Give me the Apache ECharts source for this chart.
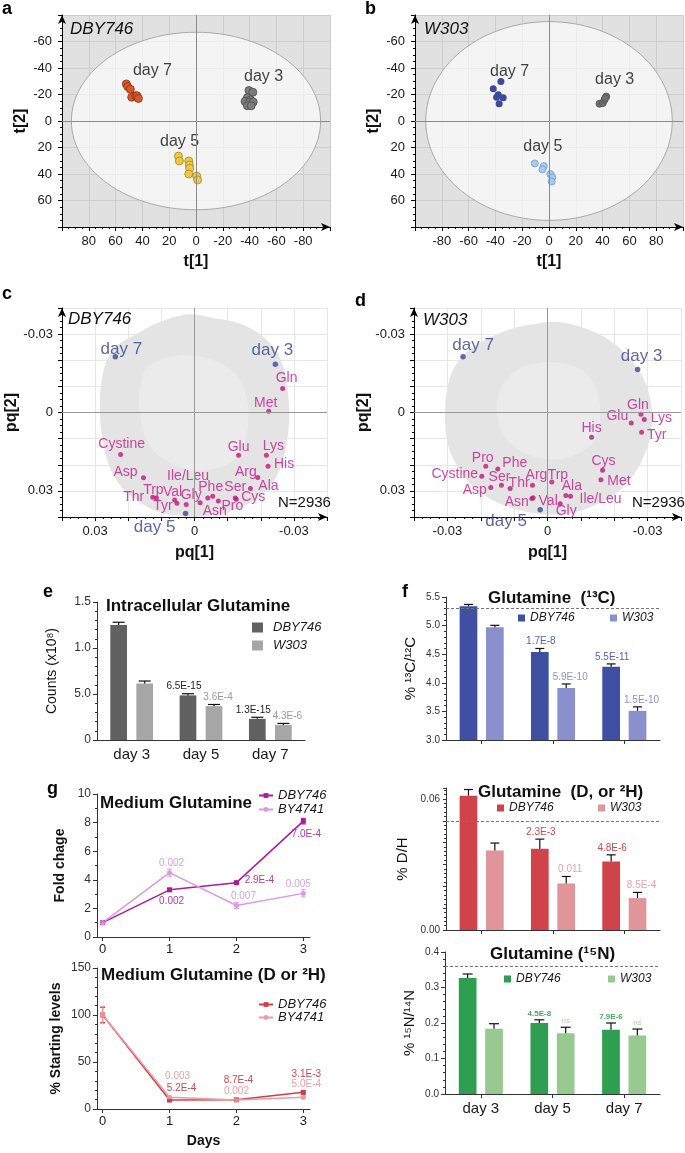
<!DOCTYPE html>
<html><head><meta charset="utf-8">
<script src="https://cdn.jsdelivr.net/npm/echarts@6/dist/echarts.min.js"></script>
<style>html,body{margin:0;padding:0;background:#fff;}#c{width:685px;height:1153px;}</style>
</head><body><div id="c"></div>
<script>
// ================= DATA =================
// Panel a – DBY746 scores [t1, t2]
const aDay3 = [[-39.5,-23],[-42.4,-21.7],[-38.3,-17.5],[-40.7,-16],[-36.6,-14.8],[-40,-14.3],[-42.7,-14.3],[-38.3,-11.5],[-41.2,-11.5]];
const aDay5 = [[13.1,26.5],[12.4,30.2],[5.4,30.2],[5,33.2],[4.7,35.7],[5.4,40],[-0.5,41.5],[-1.2,44.5]];
const aDay7 = [[52,-28],[51,-26],[49,-24],[48,-18],[45,-19],[44,-19],[43,-17]];
const aEllipse = [93, 67];
// Panel b – W303 scores
const bDay3 = [[37.7,-13],[40.2,-13.5],[41.4,-16],[42.7,-18.5],[42,-17.3]];
const bDay5 = [[-10.6,32],[-3.9,34],[-4.9,36.5],[1,40],[2.5,42.5],[2,45.7]];
const bDay7 = [[-35.9,-29.8],[-41.6,-24.3],[-37.9,-19.8],[-39.1,-18],[-34.2,-17.5],[-37.2,-13]];
const bEllipse = [92, 75];
const dayNames = ['day 7','day 3','day 5'];

// Panel c – DBY746 loadings
const cNames = ['Gln','Met','Cystine','Glu','Lys','His','Asp','Arg','Ala','Ile/Leu','Asn','Phe','Pro','Ser','Cys','Thr','Trp','Val','Tyr','Gly'];
const cPq1 = [-0.0266,-0.0224,0.0223,-0.0133,-0.0217,-0.0222,0.0154,-0.0191,-0.0169,-0.0017,-0.0040,-0.0055,-0.0072,-0.0123,-0.0126,0.0126,0.0115,0.0060,0.0053,0.0025];
const cPq2 = [-0.0092,-0.0005,0.0161,0.0164,0.0164,0.0206,0.0250,0.0249,0.0291,0.0345,0.0327,0.0321,0.0339,0.0327,0.0332,0.0324,0.0327,0.0335,0.0347,0.0352];
const cDayPq1 = [0.0239,-0.0244,0.0027];
const cDayPq2 = [-0.0213,-0.0185,0.0387];
const cCloud = [[0.0015,-0.0376],[-0.0060,-0.0361],[-0.0135,-0.0342],[-0.0202,-0.0296],[-0.0244,-0.0239],[-0.0271,-0.0162],[-0.0283,-0.0066],[-0.0286,0.0029],[-0.0277,0.0125],[-0.0259,0.0214],[-0.0226,0.0286],[-0.0181,0.0336],[-0.0120,0.0374],[-0.0045,0.0397],[0.0030,0.0397],[0.0105,0.0382],[0.0166,0.0344],[0.0220,0.0286],[0.0256,0.0209],[0.0277,0.0106],[0.0286,-0.0009],[0.0280,-0.0124],[0.0262,-0.0208],[0.0232,-0.0258],[0.0181,-0.0296],[0.0105,-0.0346]];
const cCloudInner = [[0.0136,-0.0181],[0.0030,-0.0220],[-0.0090,-0.0181],[-0.0151,-0.0085],[-0.0160,0.0068],[-0.0120,0.0183],[-0.0030,0.0221],[0.0060,0.0202],[0.0136,0.0125],[0.0166,-0.0009],[0.0160,-0.0124]];

// Panel d – W303 loadings
const dNames = ['Gln','Lys','Glu','Tyr','His','Cys','Met','Pro','Phe','Cystine','Ser','Asp','Thr','Arg','Trp','Ala','Ile/Leu','Asn','Val','Gly'];
const dPq1 = [0.0280,0.0290,0.0251,0.0282,0.0132,0.0165,0.0160,-0.0185,-0.0149,-0.0197,-0.0138,-0.0170,-0.0112,-0.0045,0.0013,0.0055,0.0069,-0.0047,-0.0043,0.0038];
const dPq2 = [0.0007,0.0027,0.0040,0.0076,0.0095,0.0221,0.0257,0.0206,0.0216,0.0244,0.0278,0.0287,0.0291,0.0278,0.0266,0.0318,0.0321,0.0329,0.0326,0.0349];
const dDayPq1 = [-0.0253,0.0270,-0.0022];
const dDayPq2 = [-0.0213,-0.0165,0.0372];
const dCloud = [[0.0035,-0.0346],[0.0110,-0.0323],[0.0185,-0.0277],[0.0245,-0.0208],[0.0290,-0.0124],[0.0311,-0.0028],[0.0311,0.0068],[0.0290,0.0163],[0.0251,0.0251],[0.0191,0.0321],[0.0119,0.0367],[0.0035,0.0390],[-0.0055,0.0382],[-0.0130,0.0355],[-0.0190,0.0317],[-0.0241,0.0259],[-0.0280,0.0183],[-0.0301,0.0106],[-0.0307,0.0010],[-0.0301,-0.0086],[-0.0280,-0.0170],[-0.0235,-0.0239],[-0.0175,-0.0285],[-0.0100,-0.0323],[-0.0025,-0.0342]];
const dCloudInner = [[-0.0100,-0.0155],[0.0005,-0.0193],[0.0110,-0.0155],[0.0155,-0.0047],[0.0140,0.0106],[0.0050,0.0175],[-0.0055,0.0163],[-0.0130,0.0087],[-0.0151,-0.0047]];
const loadTickVals = [-0.03, 0, 0.03];
const cXTickLabels = ['-0.03','0','0.03'];
const dXTickLabels = ['-0.03','0','-0.03'];
const loadYTickLabels = ['-0.03','0','0.03'];

// Panel e – intracellular glutamine
const days = ['day 3','day 5','day 7'];
const eYTickLabels = ['0','5.0','1.0','1.5'];
const eDBY = [1.25,0.485,0.23];   const eDBYErr = [0.03,0.018,0.017]; const eDBYP = ['','6.5E-15','1.3E-15'];
const eW303 = [0.613,0.368,0.164]; const eW303Err = [0.028,0.018,0.016]; const eW303P = ['','3.6E-4','4.3E-6'];

// Panel f – isotopes
const fCTickLabels = ['3.0','3.5','4.0','4.5','5.0','5.5'];
const fC_DBY = [5.34,4.54,4.28]; const fC_DBYErr = [0.03,0.06,0.05]; const fC_DBYP = ['','1.7E-8','5.5E-11'];
const fC_W = [4.97,3.91,3.51];   const fC_WErr = [0.035,0.07,0.07];   const fC_WP = ['','5.9E-10','1.5E-10'];
const fC_ref = 5.31;
const fDTickVals = [0, 0.06]; const fDTickLabels = ['0.00','0.06'];
const fD_DBY = [0.0615,0.0372,0.0314]; const fD_DBYErr = [0.0028,0.0044,0.003]; const fD_DBYP = ['','2.3E-3','4.8E-6'];
const fD_W = [0.0364,0.0213,0.0146];   const fD_WErr = [0.0034,0.0032,0.0026]; const fD_WP = ['','0.011','8.5E-4'];
const fD_ref = 0.050;
const fNTickLabels = ['0.0','0.1','0.2','0.3','0.4'];
const fN_DBY = [0.327,0.2,0.181]; const fN_DBYErr = [0.011,0.009,0.019]; const fN_DBYP = ['','4.5E-8','7.9E-6'];
const fN_W = [0.184,0.171,0.165]; const fN_WErr = [0.014,0.017,0.018]; const fN_WP = ['','ns','ns'];
const fN_ref = 0.362;

// Panel g – medium glutamine
const gDays = [0,1,2,3];
const gFoldTickLabels = ['0','2','4','6','8','10'];
const gFoldDBY = [1.0,3.3,3.8,8.1];  const gFoldDBYErr = [0.05,0.1,0.06,0.2];  const gFoldDBYP = ['','0.002','2.9E-4','7.0E-4'];
const gFoldBY = [1.0,4.5,2.2,3.05];  const gFoldBYErr = [0.05,0.25,0.2,0.25];  const gFoldBYP = ['','0.002','0.007','0.005'];
const gLevTickLabels = ['0','50','100','150'];
const gLevDBY = [100,9.5,9.8,17.7];  const gLevDBYErr = [8,1,1,1.5];  const gLevDBYP = ['','5.2E-4','8.7E-4','3.1E-3'];
const gLevBY = [100,12.5,9.6,12.4];  const gLevBYErr = [9,1,1,1.5];  const gLevBYP = ['','0.003','0.002','5.0E-4'];

// ================= LAYOUT (pixel offsets for text) =================
const FONT = 'Liberation Sans, Arial, Helvetica, sans-serif';
const L = {
  aLab: [[20,-22],[14,-23],[-9,-26]],
  bLab: [[11,-22],[11,-21],[-3,-25]],
  cLab: {'Gln':[4,-10],'Met':[-3,-8],'Cystine':[1,-10],'Glu':[0,-8],'Lys':[7,-9],'His':[16,-2],'Asp':[-18,-6],'Arg':[-12,-5],'Ala':[18,-2],'Ile/Leu':[-12,-26],'Asn':[7,13],'Phe':[-2,-9],'Pro':[14,5],'Ser':[0,-11],'Cys':[17,-2],'Thr':[-19,0],'Trp':[-3,-8],'Val':[-2,-8],'Tyr':[-14,3],'Gly':[5,-9]},
  cDay: [[6,-8],[-3,-14],[-31,14]],
  dLab: {'Gln':[-3,-9],'Lys':[17,-1],'Glu':[-14,-7],'Tyr':[15,3],'His':[0,-9],'Cys':[1,-9],'Met':[18,1],'Pro':[-3,-8],'Phe':[17,-6],'Cystine':[-27,-2],'Ser':[-2,-8],'Asp':[-16,3],'Thr':[9,-5],'Arg':[4,-10],'Trp':[6,-7],'Ala':[6,-9],'Ile/Leu':[30,3],'Asn':[-15,4],'Val':[15,3],'Gly':[6,7]},
  dDay: [[10,-12],[4,-13],[-34,12]],
  g1DBY: [[0,0],[2,11],[23,-2],[3,13]],
  g1BY:  [[0,0],[2,-9],[7,-9],[-5,-9]],
  g2DBY: [[0,0],[12,-12],[2,-20],[3,-18]],
  g2BY:  [[0,0],[8,-21],[0,-9],[3,-13]]
};

// ================= HELPERS =================
function merge(a,b){const o=Object.assign({},a);for(const k in b){const v=b[k];if(v&&typeof v==='object'&&!Array.isArray(v)&&o[k]&&typeof o[k]==='object'&&!Array.isArray(o[k]))o[k]=merge(o[k],v);else o[k]=v;}return o;}
function axis(extra){return merge({type:'value',axisLine:{show:true,onZero:false,lineStyle:{color:'#000',width:1}},axisTick:{show:true,length:4,lineStyle:{color:'#000'}},minorTick:{show:false,length:2,lineStyle:{color:'#000'}},axisLabel:{color:'#1a1a1a',fontFamily:FONT,fontSize:13},splitLine:{show:false},nameLocation:'middle',nameTextStyle:{fontFamily:FONT,color:'#111',fontWeight:'bold',fontSize:16}},extra);}
function near(v,t){return Math.abs(v-t)<1e-9;}
function pickLabel(vals,labs){return function(v){for(let i=0;i<vals.length;i++)if(near(v,vals[i]))return labs[i];return '';};}
function T(text,left,top,st){return {text,left,top,padding:0,textStyle:merge({fontFamily:FONT,color:'#111',fontSize:16,fontWeight:'normal'},st||{})};}
function ellipse(gi,ax){return {type:'custom',xAxisIndex:gi,yAxisIndex:gi,silent:true,z:1,data:[[0,0]],
  renderItem:function(p,api){const pts=[];for(let k=0;k<=120;k++){const t=k/120*2*Math.PI;pts.push(api.coord([ax[0]*Math.cos(t),ax[1]*Math.sin(t)]));}
    return {type:'polygon',shape:{points:pts},style:{fill:'rgba(255,255,255,0.62)',stroke:'#a9a9a9',lineWidth:1}};},
  markLine:{silent:true,symbol:'none',label:{show:false},lineStyle:{color:'#8a8a8a',type:'solid',width:1},data:[{xAxis:0},{yAxis:0}]}};}
function poly(gi,pts,fill,z){return {type:'custom',xAxisIndex:gi,yAxisIndex:gi,silent:true,z:z,data:[[0,0]],
  renderItem:function(p,api){return {type:'polygon',shape:{points:pts.map(q=>api.coord(q)),smooth:0.35},style:{fill:fill}};}};}
function scat(gi,pts,col,border,size){return {type:'scatter',xAxisIndex:gi,yAxisIndex:gi,silent:true,symbolSize:size,z:3,data:pts,itemStyle:{color:col,borderColor:border,borderWidth:border?0.8:0,opacity:1}};}
function centroid(pts){let sx=0,sy=0;pts.forEach(p=>{sx+=p[0];sy+=p[1];});return [sx/pts.length,sy/pts.length];}
function clusterLabels(gi,clusters,names,offs){return {type:'scatter',xAxisIndex:gi,yAxisIndex:gi,silent:true,symbolSize:1,z:4,itemStyle:{color:'rgba(0,0,0,0)'},
  data:clusters.map((c,i)=>({value:centroid(c),name:names[i],label:{show:true,position:'inside',formatter:'{b}',offset:offs[i],fontSize:16,fontFamily:FONT,color:'#111'}}))};}
function pointLabels(gi,xs,ys,names,offs,col,dotCol,fs,dot){return {type:'scatter',xAxisIndex:gi,yAxisIndex:gi,silent:true,symbolSize:dot,z:4,itemStyle:{color:dotCol},
  data:xs.map((x,i)=>({value:[x,ys[i]],name:names[i],label:{show:true,position:'inside',formatter:'{b}',offset:Array.isArray(offs)?offs[i]:offs[names[i]],fontSize:fs,fontFamily:FONT,color:col}}))};}
function bar(name,gi,vals,col,bw,gap){return {type:'bar',name:name,xAxisIndex:gi,yAxisIndex:gi,data:vals,barWidth:bw,barGap:gap,itemStyle:{color:col},silent:true,z:2};}
function errBars(gi,vals,errs,labs,dx,cap,lab){return {type:'custom',xAxisIndex:gi,yAxisIndex:gi,silent:true,z:5,data:vals.map((v,i)=>[i,v,errs[i]]),
  renderItem:function(p,api){const i=api.value(0),v=api.value(1),e=api.value(2);const p0=api.coord([i,v]),p1=api.coord([i,v+e]);const x=p0[0]+dx;
    const st={stroke:'#111',lineWidth:1.2};
    const ch=[{type:'line',shape:{x1:x,y1:p0[1],x2:x,y2:p1[1]},style:st},{type:'line',shape:{x1:x-cap/2,y1:p1[1],x2:x+cap/2,y2:p1[1]},style:st}];
    const t=labs[p.dataIndex];
    if(t)ch.push({type:'text',x:x+lab.dx,y:p1[1]-2,style:{text:t,fill:lab.color,fontSize:lab.size,fontFamily:FONT,fontWeight:lab.weight||'normal',align:'center',verticalAlign:'bottom'}});
    return {type:'group',children:ch};}};}
function errSym(gi,xs,vals,errs,col){return {type:'custom',xAxisIndex:gi,yAxisIndex:gi,silent:true,z:4,data:xs.map((x,i)=>[x,vals[i],errs[i]]),
  renderItem:function(p,api){const x=api.value(0),v=api.value(1),e=api.value(2);const a=api.coord([x,v-e]),b=api.coord([x,v+e]);const st={stroke:col,lineWidth:1};
    return {type:'group',children:[{type:'line',shape:{x1:a[0],y1:a[1],x2:b[0],y2:b[1]},style:st},{type:'line',shape:{x1:a[0]-2.5,y1:a[1],x2:a[0]+2.5,y2:a[1]},style:st},{type:'line',shape:{x1:b[0]-2.5,y1:b[1],x2:b[0]+2.5,y2:b[1]},style:st}]};}};}
function line(name,gi,xs,vals,labs,offs,col,labCol,sym){return {type:'line',name:name,xAxisIndex:gi,yAxisIndex:gi,silent:true,z:3,symbol:sym,symbolSize:5,showSymbol:true,
  itemStyle:{color:col},lineStyle:{color:col,width:1.5},
  data:xs.map((x,i)=>({value:[x,vals[i]],label:labs[i]?{show:true,position:'inside',formatter:labs[i],offset:offs[i],color:labCol,fontSize:10,fontFamily:FONT}:{show:false}}))};}
function leg(name,left,top,icon,extra){return merge({data:[name],left:left,top:top,padding:0,itemWidth:7,itemHeight:7,icon:icon,selectedMode:false,
  formatter:function(n){return n.split('|')[0];},textStyle:{fontFamily:FONT,fontStyle:'italic',fontSize:12,color:'#1a1a1a'}},extra||{});}
function refLine(v){return {silent:true,symbol:'none',label:{show:false},lineStyle:{color:'#777',type:[3,2],width:1},data:[{yAxis:v}]};}

// ================= GRIDS & AXES =================
const G = (l,t,w,h,extra)=>merge({left:l,top:t,width:w,height:h,containLabel:false,outerBoundsMode:'none'},extra||{});
const grids = [
  G(62,15,268,212,{show:true,backgroundColor:'#e1e1e1',borderWidth:0}),
  G(415,15,268,212,{show:true,backgroundColor:'#e1e1e1',borderWidth:0}),
  G(62,308,265,209),
  G(414,308,267,209),
  G(97,602,208,138),
  G(446,597,214,143),
  G(446,788,214,142),
  G(445,952,215,142),
  G(97,794,213,143),
  G(97,968,213,141)
];
const arrow = {symbol:['none','arrow'],symbolSize:[6,9]};
const scoreX = (gi,inv)=>axis({gridIndex:gi,min:-100,max:100,interval:20,inverse:inv,axisLine:arrow,minorTick:{show:true,splitNumber:4},
  splitLine:{show:true,lineStyle:{color:'#cdcdcd'}},axisLabel:{margin:8,formatter:v=>Math.abs(v)<=80?String(v):''},name:'t[1]',nameGap:27});
const scoreY = (gi)=>axis({gridIndex:gi,min:-80,max:80,interval:20,inverse:true,axisLine:arrow,minorTick:{show:true,splitNumber:4},
  splitLine:{show:true,lineStyle:{color:'#cdcdcd'}},axisLabel:{margin:10,formatter:v=>Math.abs(v)<=60?String(v):''},name:'t[2]',nameGap:33});
const loadX = (gi,inv,labs)=>axis({gridIndex:gi,min:-0.04,max:0.04,interval:0.01,inverse:inv,axisLine:arrow,minorTick:{show:true,splitNumber:4},
  splitLine:{show:true,lineStyle:{color:'#e6e6e6'}},axisLabel:{margin:8,formatter:pickLabel(loadTickVals,labs)},name:'pq[1]',nameGap:28});
const loadY = (gi)=>axis({gridIndex:gi,min:-0.04,max:0.04,interval:0.01,inverse:true,axisLine:arrow,minorTick:{show:true,splitNumber:4},
  splitLine:{show:true,lineStyle:{color:'#e6e6e6'}},axisLabel:{margin:9,formatter:pickLabel(loadTickVals,loadYTickLabels)},name:'pq[2]',nameGap:34});
const catX = (gi,showLab,tick)=>axis({gridIndex:gi,type:'category',data:days,axisLine:{lineStyle:{color:'#333'}},
  axisTick:{show:tick,alignWithLabel:true,length:4,lineStyle:{color:'#333'}},axisLabel:{show:showLab,fontSize:15,margin:7,color:'#1a1a1a'}});
const barY = (gi,ext)=>axis(merge({gridIndex:gi,axisLine:{lineStyle:{color:'#333'}},axisTick:{lineStyle:{color:'#333'}},minorTick:{show:true,lineStyle:{color:'#333'}},
  axisLabel:{fontSize:10,color:'#333',margin:6},nameTextStyle:{fontWeight:'normal',fontSize:14}},ext));
const dayX = (gi,ext)=>axis(merge({gridIndex:gi,min:-0.085,max:3.1,axisLine:{lineStyle:{color:'#333'}},
  axisTick:{customValues:gDays,lineStyle:{color:'#333'}},axisLabel:{customValues:gDays,fontSize:13,margin:6,color:'#1a1a1a'}},ext||{}));

const xAxes = [
  scoreX(0,true), scoreX(1,false), loadX(2,true,cXTickLabels), loadX(3,false,dXTickLabels),
  catX(4,true,false),
  catX(5,false,true), catX(6,false,true), catX(7,true,true),
  dayX(8), dayX(9,{name:'Days',nameGap:25,nameTextStyle:{fontSize:14}})
];
const yAxes = [
  scoreY(0), scoreY(1), loadY(2), loadY(3),
  barY(4,{min:0,max:1.5,interval:0.5,minorTick:{splitNumber:5},axisLabel:{fontSize:12,formatter:(v,i)=>eYTickLabels[i]},name:'Counts (x10⁸)',nameGap:38,nameTextStyle:{fontSize:14}}),
  barY(5,{min:3,max:5.5,interval:0.5,minorTick:{splitNumber:5},axisLabel:{formatter:(v,i)=>fCTickLabels[i]},name:'% ¹³C/¹²C',nameGap:28,nameTextStyle:{fontSize:15}}),
  barY(6,{min:0,max:0.065,interval:0.01,axisTick:{length:3},axisLabel:{formatter:pickLabel(fDTickVals,fDTickLabels)},name:'% D/H',nameGap:36,nameTextStyle:{fontSize:15}}),
  barY(7,{min:0,max:0.4,interval:0.1,minorTick:{splitNumber:5},axisLabel:{formatter:(v,i)=>fNTickLabels[i]},name:'% ¹⁵N/¹⁴N',nameGap:28,nameTextStyle:{fontSize:15}}),
  barY(8,{min:0,max:10,interval:2,minorTick:{splitNumber:2},axisLabel:{fontSize:12,formatter:(v,i)=>gFoldTickLabels[i]},name:'Fold chage',nameGap:30,nameTextStyle:{fontWeight:'bold',fontSize:14}}),
  barY(9,{min:0,max:150,interval:50,minorTick:{splitNumber:5},axisLabel:{fontSize:12,formatter:(v,i)=>gLevTickLabels[i]},name:'% Starting levels',nameGap:34,nameTextStyle:{fontWeight:'bold',fontSize:14}})
];

// ================= SERIES =================
const series = [];
// a
series.push(ellipse(0,aEllipse));
series.push(scat(0,aDay3,'#7c7c7c','#4a4a4a',8));
series.push(scat(0,aDay5,'#f0c848','#a88420',8));
series.push(scat(0,aDay7,'#d5592b','#8a3414',8));
series.push(clusterLabels(0,[aDay7,aDay3,aDay5],dayNames,L.aLab));
// b
series.push(ellipse(1,bEllipse));
series.push(scat(1,bDay3,'#6f6f6f','#555',7));
series.push(scat(1,bDay5,'#a8cbea','#6e9bc6',7));
series.push(scat(1,bDay7,'#3c4a9b',null,7));
series.push(clusterLabels(1,[bDay7,bDay3,bDay5],dayNames,L.bLab));
// c
series.push(poly(2,cCloud,'#e4e4e4',1));
series.push(poly(2,cCloudInner,'rgba(255,255,255,0.28)',1));
const zeroLoad = {silent:true,symbol:'none',label:{show:false},lineStyle:{color:'#999',type:'solid',width:1},data:[{xAxis:0},{yAxis:0}]};
series.push(merge(pointLabels(2,cPq1,cPq2,cNames,L.cLab,'#c2198a','#c0177e',14,5),{markLine:zeroLoad}));
series.push(pointLabels(2,cDayPq1,cDayPq2,dayNames,L.cDay,'#34428f','#3b4897',17,5.5));
// d
series.push(poly(3,dCloud,'#e4e4e4',1));
series.push(poly(3,dCloudInner,'rgba(255,255,255,0.28)',1));
series.push(merge(pointLabels(3,dPq1,dPq2,dNames,L.dLab,'#c2198a','#c0177e',14,5),{markLine:zeroLoad}));
series.push(pointLabels(3,dDayPq1,dDayPq2,dayNames,L.dDay,'#34428f','#3b4897',17,5.5));
// e
const eBW=16.7, eGap=0.56, eOff=eBW*(1+eGap)/2;
series.push(bar('DBY746|e',4,eDBY,'#616161',eBW,'56%'));
series.push(bar('W303|e',4,eW303,'#a6a6a6',eBW,'56%'));
series.push(errBars(4,eDBY,eDBYErr,eDBYP,-eOff,12,{dx:-4,color:'#222',size:10}));
series.push(errBars(4,eW303,eW303Err,eW303P,eOff,12,{dx:4,color:'#9a9a9a',size:10}));
// f
const fBW=17.7, fOff=fBW*1.49/2;
series.push(merge(bar('DBY746|f1',5,fC_DBY,'#3f4fa2',fBW,'49%'),{markLine:refLine(fC_ref)}));
series.push(bar('W303|f1',5,fC_W,'#8a8fcd',fBW,'49%'));
series.push(errBars(5,fC_DBY,fC_DBYErr,fC_DBYP,-fOff,9,{dx:1,color:'#5263b4',size:10}));
series.push(errBars(5,fC_W,fC_WErr,fC_WP,fOff,9,{dx:4,color:'#8c92d0',size:10}));
series.push(merge(bar('DBY746|f2',6,fD_DBY,'#d0434b',fBW,'49%'),{markLine:refLine(fD_ref)}));
series.push(bar('W303|f2',6,fD_W,'#e0959b',fBW,'49%'));
series.push(errBars(6,fD_DBY,fD_DBYErr,fD_DBYP,-fOff,9,{dx:1,color:'#d5464e',size:10}));
series.push(errBars(6,fD_W,fD_WErr,fD_WP,fOff,9,{dx:4,color:'#e8a3a8',size:10}));
series.push(merge(bar('DBY746|f3',7,fN_DBY,'#2f9e50',fBW,'49%'),{markLine:refLine(fN_ref)}));
series.push(bar('W303|f3',7,fN_W,'#98c990',fBW,'49%'));
series.push(errBars(7,fN_DBY,fN_DBYErr,fN_DBYP,-fOff,10,{dx:0,color:'#45ad5e',size:8,weight:'bold'}));
series.push(errBars(7,fN_W,fN_WErr,fN_WP,fOff,10,{dx:0,color:'#a6d49e',size:8}));
// g
series.push(line('DBY746|g1',8,gDays,gFoldDBY,gFoldDBYP,L.g1DBY,'#b0199f','#b3389f','rect'));
series.push(line('BY4741|g1',8,gDays,gFoldBY,gFoldBYP,L.g1BY,'#dd98e5','#d8a2df','circle'));
series.push(errSym(8,gDays,gFoldDBY,gFoldDBYErr,'#b0199f'));
series.push(errSym(8,gDays,gFoldBY,gFoldBYErr,'#dd98e5'));
series.push(line('DBY746|g2',9,gDays,gLevDBY,gLevDBYP,L.g2DBY,'#cc3e48','#cc4850','rect'));
series.push(line('BY4741|g2',9,gDays,gLevBY,gLevBYP,L.g2BY,'#eb9ca3','#e9a0a6','circle'));
series.push(errSym(9,gDays,gLevDBY,gLevDBYErr,'#cc3e48'));
series.push(errSym(9,gDays,gLevBY,gLevBYErr,'#eb9ca3'));

// ================= TEXT =================
const PL = {fontSize:18,fontWeight:'bold',color:'#000'};
const titles = [
  T('a',2,0,PL), T('b',365,0,PL), T('c',2,285,PL), T('d',355,292,PL), T('e',43,583,PL), T('f',402,583,PL), T('g',47,780,PL),
  T('DBY746',70,21,{fontStyle:'italic',fontSize:17}), T('W303',424,21,{fontStyle:'italic',fontSize:17}),
  T('DBY746',68,311,{fontStyle:'italic',fontSize:17}), T('W303',423,312,{fontStyle:'italic',fontSize:17}),
  T('N=2936',278,495,{fontSize:15}), T('N=2936',632,495,{fontSize:15}),
  T('Intracellular Glutamine',106,598,{fontSize:17,fontWeight:'bold'}),
  T('Glutamine  (¹³C)',488,590,{fontSize:17,fontWeight:'bold'}),
  T('Glutamine  (D, or ²H)',478,784,{fontSize:17,fontWeight:'bold'}),
  T('Glutamine (¹⁵N)',490,946,{fontSize:17,fontWeight:'bold'}),
  T('Medium Glutamine',100,795,{fontSize:17,fontWeight:'bold'}),
  T('Medium Glutamine (D or ²H)',101,967,{fontSize:17,fontWeight:'bold'})
];
const legends = [
  leg('DBY746|e',252,621,'rect',{itemWidth:11,itemHeight:10,textStyle:{fontSize:13,padding:[0,0,0,5]}}),
  leg('W303|e',252,639,'rect',{itemWidth:11,itemHeight:10,textStyle:{fontSize:13,padding:[0,0,0,5]}}),
  leg('DBY746|f1',518,612,'rect'), leg('W303|f1',610,612,'rect'),
  leg('DBY746|f2',497,802,'rect'), leg('W303|f2',598,802,'rect'),
  leg('DBY746|f3',504,973,'rect'), leg('W303|f3',608,973,'rect'),
  leg('DBY746|g1',258,789,null,{itemWidth:14,itemHeight:6,textStyle:{fontSize:13}}),
  leg('BY4741|g1',258,803,null,{itemWidth:14,itemHeight:6,textStyle:{fontSize:13}}),
  leg('DBY746|g2',258,998,null,{itemWidth:14,itemHeight:6,textStyle:{fontSize:13}}),
  leg('BY4741|g2',258,1011,null,{itemWidth:14,itemHeight:6,textStyle:{fontSize:13}})
];
legends.forEach(l=>{if(l.icon===null)delete l.icon;});

const chart = echarts.init(document.getElementById('c'),null,{renderer:'canvas'});
chart.setOption({animation:false,backgroundColor:'#fff',textStyle:{fontFamily:FONT},
  title:titles,legend:legends,grid:grids,xAxis:xAxes,yAxis:yAxes,series:series});
</script></body></html>
